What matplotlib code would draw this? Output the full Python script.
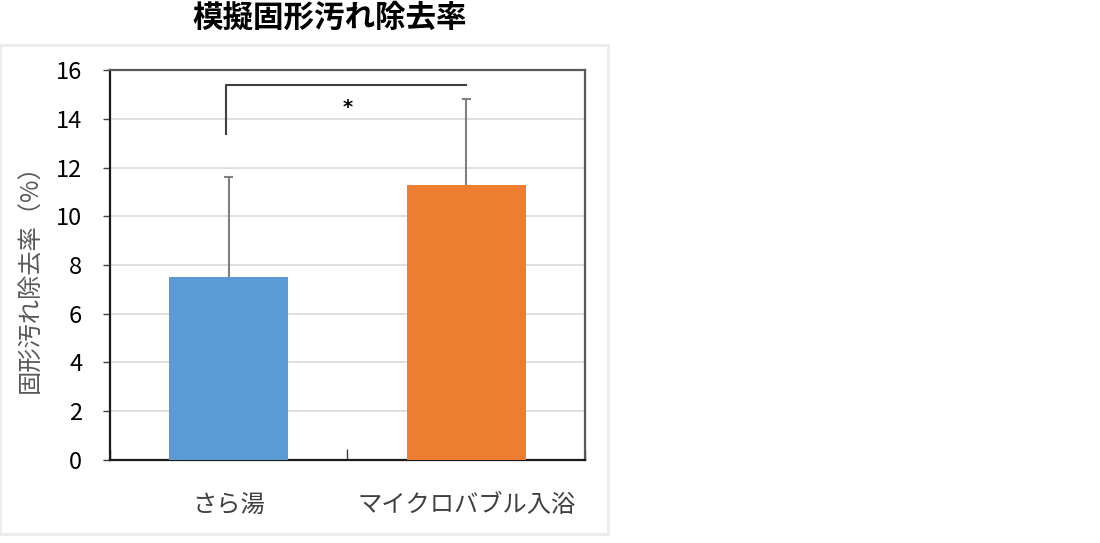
import numpy as np
import matplotlib
matplotlib.use('Agg')
import matplotlib.pyplot as plt
from matplotlib.patches import Rectangle

plt.rcParams['font.family'] = ['Noto Sans CJK JP', 'DejaVu Sans']

# Data
categories = ['さら湯', 'マイクロバブル入浴']
means = [7.5, 11.3]
sd_upper = [4.1, 3.5]
bar_colors = ['#5B9BD5', '#ED7D31']

title = '模擬固形汚れ除去率'
ylabel = '固形汚れ除去率（%）'
yticks = [0, 2, 4, 6, 8, 10, 12, 14, 16]

# significance bracket: x from / to, y low / high
bracket_x = [-0.012, 1.0]
bracket_y = [13.37, 15.38]
star_pos = (0.5, 14.45)

fig = plt.figure(figsize=(11, 5.43), dpi=100)

# light frame around chart area (Excel chart area look)
fig.patches.append(Rectangle((0.0, 0.0166), 0.5527, 0.9006, transform=fig.transFigure,
                             facecolor='none', edgecolor='#ebebeb', linewidth=2))

ax = fig.add_axes([0.1, 0.1529, 0.4318, 0.7181])
x = np.arange(len(categories))
ax.bar(x, means, width=0.5, color=bar_colors, zorder=3)

# upper-only error bars (no cap at the bar top)
tops = np.array(means) + np.array(sd_upper)
cap = 0.019
ax.vlines(x, means, tops, color='#808080', linewidth=1.5, zorder=4)
ax.hlines(tops, x - cap, x + cap, color='#808080', linewidth=1.5, zorder=4)

# bracket + asterisk
ax.plot([bracket_x[0], bracket_x[0], bracket_x[1]],
        [bracket_y[0], bracket_y[1], bracket_y[1]],
        color='#404040', linewidth=1.5, zorder=5)
ax.text(star_pos[0], star_pos[1], '*', ha='center', va='center',
        fontsize=14, fontweight='bold', color='black', family='DejaVu Sans')

ax.set_xlim(-0.5, 1.5)
ax.set_ylim(0, 16)
ax.set_yticks(yticks)
ax.set_yticklabels([str(v) for v in yticks])
ax.tick_params(axis='y', direction='out', length=5, width=1, color='#404040',
               labelsize=17, pad=15, labelcolor='black')

ax.set_xticks(x)
ax.set_xticklabels(categories)
ax.tick_params(axis='x', which='major', length=0, labelsize=17.5, pad=23,
               labelcolor='#404040')
ax.set_xticks([-0.5, 0.5, 1.5], minor=True)
ax.tick_params(axis='x', which='minor', direction='in', length=8, width=1,
               color='#404040')

ax.grid(axis='y', color='#d9d9d9', linewidth=1.2, zorder=0)
ax.set_axisbelow(True)

for side in ['left', 'bottom']:
    ax.spines[side].set_color('#1a1a1a')
    ax.spines[side].set_linewidth(1.6)
for side in ['top', 'right']:
    ax.spines[side].set_color('#595959')
    ax.spines[side].set_linewidth(1.6)

ax.set_ylabel(ylabel, fontsize=17.5, color='#595959')
ax.yaxis.set_label_coords(-0.141, 0.48)

fig.text(0.30, 0.967, title, ha='center', va='center', fontsize=22,
         fontweight='bold', color='black')

fig.savefig('out.png', dpi=100)
